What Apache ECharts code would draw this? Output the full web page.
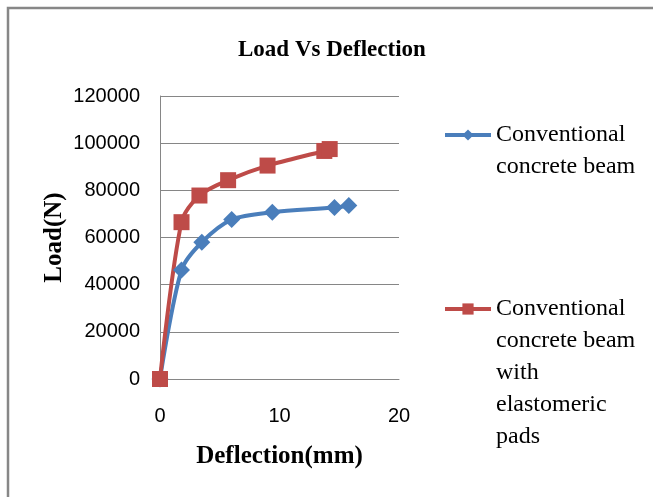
<!DOCTYPE html>
<html>
<head>
<meta charset="utf-8">
<script src="https://cdn.jsdelivr.net/npm/echarts@6/dist/echarts.min.js"></script>
<style>
  html, body { margin: 0; padding: 0; background: #fff; }
  #chart { width: 653px; height: 497px; }
</style>
</head>
<body>
<div id="chart"></div>
<script>
// deflection (mm) and load (N)
const plainDeflection = [0, 1.8, 3.5, 6.0, 9.4, 14.6, 15.8];
const plainLoad = [0, 46200, 58000, 67600, 70700, 72700, 73600];
const padDeflection = [0, 1.8, 3.3, 5.7, 9.0, 13.75, 14.2];
const padLoad = [0, 66500, 77800, 84300, 90500, 96700, 97500];

const plainName = 'Conventional concrete beam';
const padName = 'Conventional concrete beam with elastomeric pads';

// legend text, blank lines above keep the icon level with the first line
const legendText = {};
legendText[plainName] = '\nConventional\nconcrete beam';
legendText[padName] = '\n\n\n\nConventional\nconcrete beam\nwith\nelastomeric\npads';

const serif = '"Liberation Serif", "DejaVu Serif", serif';
const sans = '"Liberation Sans", Arial, sans-serif';

function pairs(xs, ys) {
  return xs.map((x, i) => [x, ys[i]]);
}

const chart = echarts.init(document.getElementById('chart'));

const legendBase = {
  orient: 'vertical',
  left: 443,
  padding: 0,
  itemWidth: 46,
  itemHeight: 14,
  lineStyle: { width: 4 },
  textStyle: { fontFamily: serif, fontSize: 24, lineHeight: 32, color: '#000' },
  formatter: (name) => legendText[name],
};

const option = {
  animation: false,
  title: {
    text: 'Load Vs Deflection',
    left: 238,
    top: 39,
    padding: 0,
    textStyle: { fontFamily: serif, fontSize: 23, fontWeight: 'bold', color: '#000' },
  },
  graphic: [
    {
      type: 'rect',
      shape: { x: 8, y: 8, width: 700, height: 600 },
      style: { fill: null, stroke: '#878787', lineWidth: 2.5 },
    },
  ],
  legend: [
    Object.assign({}, legendBase, { data: [plainName], top: 87 }),
    Object.assign({}, legendBase, { data: [padName], top: 165 }),
  ],
  grid: {
    left: 160,
    right: 254,
    top: 96,
    bottom: 118,
  },
  xAxis: {
    type: 'value',
    min: 0,
    max: 20,
    interval: 10,
    name: 'Deflection(mm)',
    nameLocation: 'middle',
    nameGap: 65,
    nameTextStyle: { fontFamily: serif, fontSize: 25, fontWeight: 'bold', color: '#000' },
    axisLine: { show: true, lineStyle: { color: '#868686', width: 1 } },
    axisTick: { show: false },
    splitLine: { show: false },
    axisLabel: { fontFamily: sans, fontSize: 20, color: '#000', margin: 27 },
  },
  yAxis: {
    type: 'value',
    min: 0,
    max: 120000,
    interval: 20000,
    name: 'Load(N)',
    nameLocation: 'middle',
    nameGap: 93,
    nameTextStyle: { fontFamily: serif, fontSize: 25, fontWeight: 'bold', color: '#000' },
    axisLine: { show: true, lineStyle: { color: '#868686', width: 1 } },
    axisTick: { show: false },
    splitLine: { show: true, lineStyle: { color: '#868686', width: 1 } },
    axisLabel: {
      fontFamily: sans,
      fontSize: 20,
      color: '#000',
      margin: 20,
      formatter: (v) => String(v),
    },
  },
  series: [
    {
      name: plainName,
      type: 'line',
      data: pairs(plainDeflection, plainLoad),
      smooth: 0.3,
      symbol: 'diamond',
      symbolSize: 17,
      lineStyle: { width: 4, color: '#4A7EBB' },
      itemStyle: { color: '#4A7EBB' },
    },
    {
      name: padName,
      type: 'line',
      data: pairs(padDeflection, padLoad),
      smooth: 0.3,
      symbol: 'rect',
      symbolSize: 16,
      lineStyle: { width: 4, color: '#BE4B48' },
      itemStyle: { color: '#BE4B48' },
    },
  ],
};

chart.setOption(option);
</script>
</body>
</html>
